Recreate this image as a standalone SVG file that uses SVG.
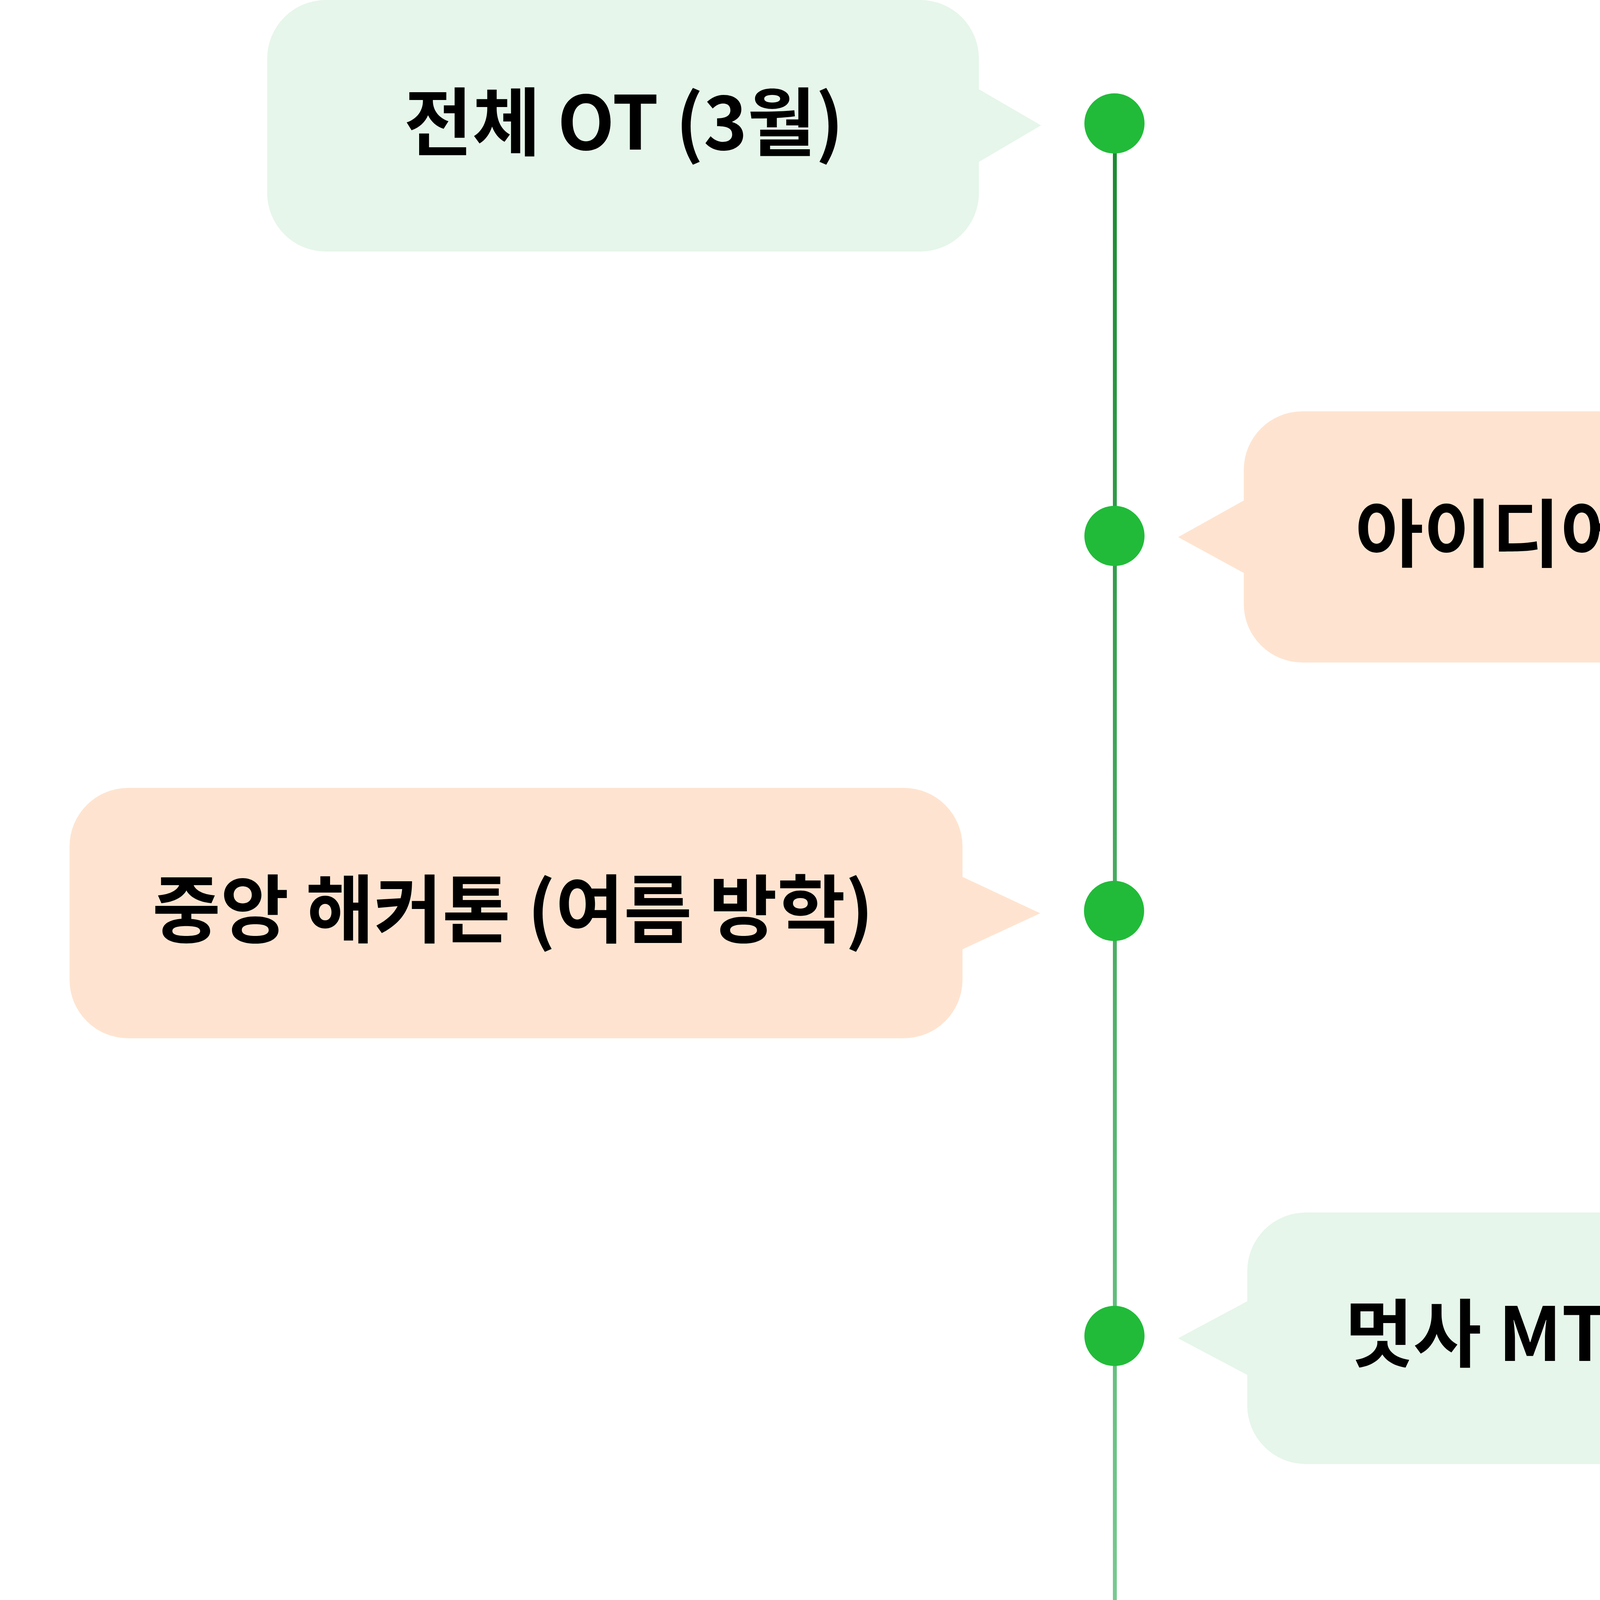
<svg xmlns="http://www.w3.org/2000/svg" width="5103" height="6567" viewBox="0 0 5103 6567">
<defs>
<linearGradient id="lineGrad" gradientUnits="userSpaceOnUse" x1="0" y1="316" x2="0" y2="6567">
<stop offset="0" stop-color="#178a2f"/>
<stop offset="0.55" stop-color="#6cc487"/>
<stop offset="1" stop-color="#d3efdd"/>
</linearGradient>
</defs>
<style>
.g{fill:#e6f6ea}
.o{fill:#fee4d0}
.dot{fill:#21bb39}
.t{font-family:"Noto Sans CJK KR","Noto Sans",sans-serif;font-weight:700;font-size:190px;fill:#000;text-anchor:middle}
</style>
<rect width="5103" height="6567" fill="#fff"/>
<g id="connectors">
<line x1="2854" y1="316" x2="2854" y2="6560" stroke="url(#lineGrad)" stroke-width="10" stroke-linecap="round"/>
</g>
<g id="node1">
<rect class="g" x="684" y="0" width="1822" height="644" rx="150"/>
<polygon class="g" points="2500,225 2665,321 2500,418"/>
<text class="t" x="1597" y="383">전체 OT (3월)</text>
<circle class="dot" cx="2853" cy="316" r="77"/>
</g>
<g id="node2">
<rect class="o" x="3184" y="1053" width="1916" height="643" rx="150"/>
<polygon class="o" points="3190,1278 3016,1375 3190,1470"/>
<text class="t" x="4143" y="1436">아이디어톤 (5월)</text>
<circle class="dot" cx="2853" cy="1372" r="77"/>
</g>
<g id="node3">
<rect class="o" x="178" y="2017" width="2286" height="641" rx="150"/>
<polygon class="o" points="2458,2242 2663,2338 2458,2433"/>
<text class="t" x="1313" y="2398">중앙 해커톤 (여름 방학)</text>
<circle class="dot" cx="2852" cy="2332" r="77"/>
</g>
<g id="node4">
<rect class="g" x="3193" y="3104" width="1677" height="644" rx="150"/>
<polygon class="g" points="3199,3328 3016,3426 3199,3523"/>
<text class="t" x="4048" y="3484">멋사 MT (미정)</text>
<circle class="dot" cx="2853" cy="3420" r="77"/>
</g>
<g id="node5">
<rect class="g" x="0" y="4122" width="2451" height="645" rx="150"/>
<polygon class="g" points="2445,4348 2663,4444 2445,4540"/>
<text class="t" x="1224" y="4506">SKHU 자체 해커톤 (미정)</text>
<circle class="dot" cx="2852" cy="4450" r="77"/>
</g>
<g id="node6">
<rect class="g" x="3148" y="5228" width="1503" height="644" rx="150"/>
<polygon class="g" points="3154,5455 3016,5549 3154,5645"/>
<text class="t" x="3912" y="5613">2학기 활동</text>
<circle class="dot" cx="2844" cy="5539" r="77"/>
</g>
</svg>
